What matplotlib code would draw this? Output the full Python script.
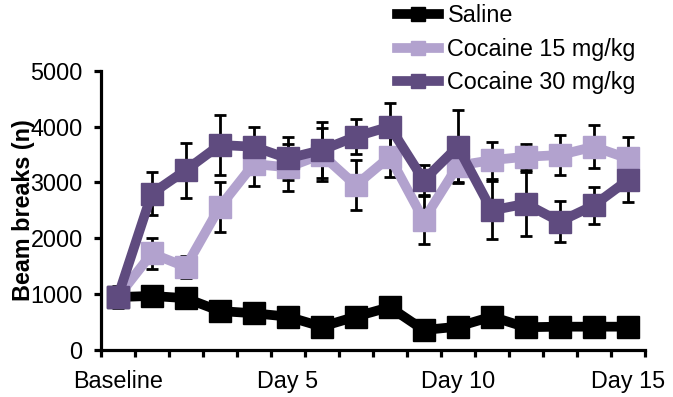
import numpy as np
import matplotlib.pyplot as plt

plt.rcParams['font.family'] = ['Liberation Sans', 'DejaVu Sans']

# data - baseline + days 1..15
sessions = np.arange(16)
tick_pos = [0, 5, 10, 15]
tick_labels = ["Baseline", "Day 5", "Day 10", "Day 15"]

saline = [950, 970, 930, 700, 660, 600, 420, 600, 770, 360, 420, 600, 410, 420, 420, 420]
saline_sem = [100, 90, 90, 80, 80, 70, 60, 70, 80, 60, 60, 70, 60, 60, 60, 60]

coc15 = [950, 1730, 1490, 2560, 3330, 3270, 3500, 2950, 3460, 2330, 3300, 3400, 3460, 3490, 3640, 3430]
coc15_sem = [150, 280, 200, 450, 390, 420, 480, 450, 360, 430, 300, 330, 230, 360, 390, 380]

coc30 = [950, 2800, 3220, 3670, 3640, 3430, 3580, 3820, 4000, 3040, 3640, 2500, 2620, 2300, 2590, 3040]
coc30_sem = [200, 390, 490, 540, 350, 390, 500, 310, 430, 270, 650, 520, 570, 360, 330, 390]

c_sal = "#000000"
c_15 = "#b2a2ce"
c_30 = "#5f4b7f"

fs = 16.8

fig = plt.figure(figsize=(6.73, 3.97), dpi=100)
ax = fig.add_axes([0.1497, 0.118, 0.8083, 0.704])

# error bars behind the lines
for y, e in [(saline, saline_sem), (coc15, coc15_sem), (coc30, coc30_sem)]:
    ax.errorbar(sessions, y, yerr=e, fmt="none", ecolor="black",
                elinewidth=2, capsize=4, capthick=2, zorder=1)

ax.plot(sessions, saline, color=c_sal, lw=7, marker="s", ms=16.5,
        label="Saline", zorder=2)
ax.plot(sessions, coc15, color=c_15, lw=7, marker="s", ms=16.5,
        label="Cocaine 15 mg/kg", zorder=3)
ax.plot(sessions, coc30, color=c_30, lw=7, marker="s", ms=16.5,
        label="Cocaine 30 mg/kg", zorder=4)

ax.set_xlim(-0.5, 15.5)
ax.set_ylim(0, 5000)
ax.set_yticks(range(0, 5001, 1000))
ax.set_xticks(tick_pos)
ax.set_xticklabels(tick_labels)
ax.set_xticks(np.arange(-0.5, 16, 1), minor=True)

for s in ["top", "right"]:
    ax.spines[s].set_visible(False)
for s in ["left", "bottom"]:
    ax.spines[s].set_linewidth(2.3)

ax.tick_params(axis="x", which="major", length=0, pad=14, labelsize=fs)
ax.tick_params(axis="x", which="minor", length=5, width=2.3, direction="out")
ax.tick_params(axis="y", length=5, width=2.3, pad=8, labelsize=fs)

ax.set_ylabel("Beam breaks (n)", fontsize=fs, fontweight="bold", labelpad=-3.5)

leg = fig.legend(loc="upper left", bbox_to_anchor=(0.566, 1.03), frameon=False,
                 fontsize=fs, markerscale=0.6, handlelength=1.8,
                 handletextpad=0.35, labelspacing=0.45, borderpad=0.2)

plt.savefig("out.png", dpi=100)
